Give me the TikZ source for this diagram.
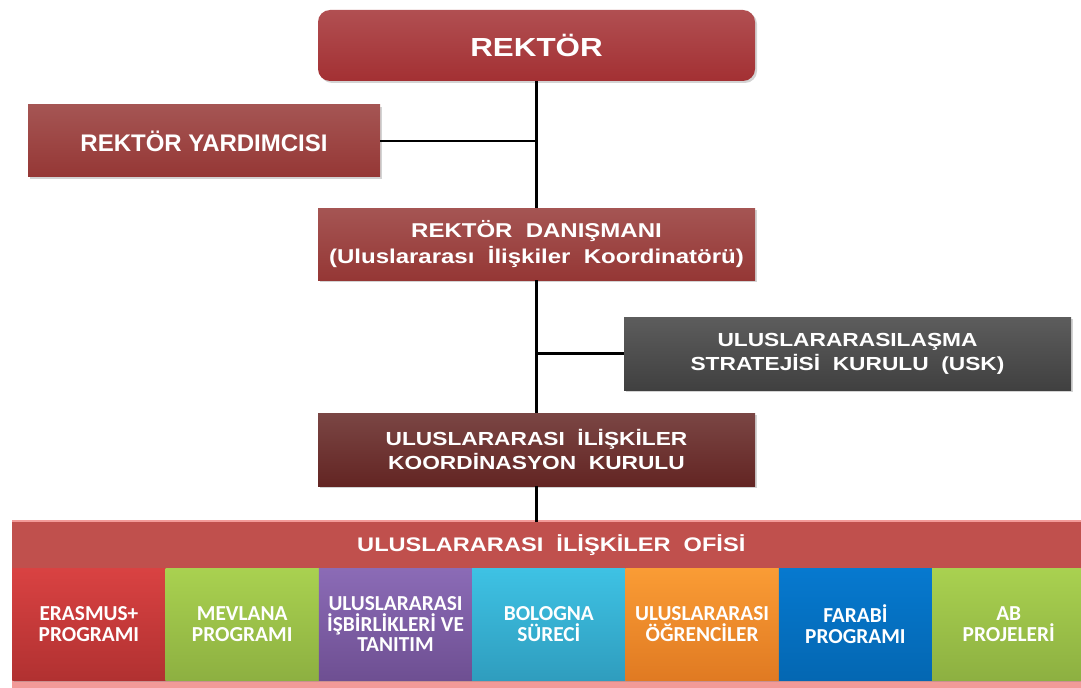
\documentclass[tikz,border=0pt]{standalone}
\usepackage{fontspec}
\setmainfont{Liberation Sans}
\newfontfamily\calibri{Carlito}
\newfontfamily\widesans[FakeStretch=1.2]{Liberation Sans}
\usetikzlibrary{shadows}

\definecolor{rektorred}{HTML}{A33033}
\definecolor{unitred}{HTML}{953735}
\definecolor{darkred}{HTML}{632523}
\definecolor{uskgray}{HTML}{404040}
\definecolor{officered}{HTML}{C0504D}
\definecolor{officepink}{HTML}{F29A98}

\begin{document}
\begin{tikzpicture}[x=0.75pt,y=-0.75pt,
  box/.style 2 args={minimum width=#1*0.75pt, minimum height=#2*0.75pt, inner sep=0pt,
    align=center, text=white,
    drop shadow={opacity=0.35, shadow xshift=1.5pt, shadow yshift=-1.5pt}},
  head/.style={font=\widesans\fontsize{#1}{18}\selectfont\bfseries},
  head/.default=14.2,
  prog/.style={box={153.3}{112}, anchor=north west,
    font=\calibri\fontsize{16}{15.5}\selectfont\bfseries},
  link/.style={line width=2.2pt}]
\useasboundingbox (0,0) rectangle (1081,688);
\clip (0,0) rectangle (1081,688);

% top of the hierarchy
\node[box={437}{71}, rounded corners=9pt, top color=rektorred!85!white, bottom color=rektorred,
  font=\widesans\fontsize{19.6}{22}\selectfont\bfseries] (rektor) at (536.5,45.5) {REKTÖR};
\node[box={352}{72}, top color=unitred!85!white, bottom color=unitred,
  font=\fontsize{18}{20}\selectfont\bfseries] (yard) at (204,141)
  {REKTÖR YARDIMCISI};
\node[box={437}{72}, top color=unitred!85!white, bottom color=unitred,
  font=\widesans\fontsize{15}{19.5}\selectfont\bfseries] (danis) at (536.5,244)
  {REKTÖR\ \ DANIŞMANI\\(Uluslararası\ \ İlişkiler\ \ Koordinatörü)};
\node[box={447}{73}, top color=uskgray!85!white, bottom color=uskgray, head] (usk) at (847.5,353.5)
  {ULUSLARARASILAŞMA\\STRATEJİSİ\ \ KURULU\ \ (USK)};
\node[box={437}{73}, top color=darkred!85!white, bottom color=darkred, head] (koord) at (536.5,449.5)
  {ULUSLARARASI\ \ İLİŞKİLER\\KOORDİNASYON\ \ KURULU};

% office
\fill[officepink] (12,520) rectangle (1090,700);
\fill[officered] (12,525) rectangle (1090,680);
\node[box={1078}{46}, anchor=north west, fill=officered, drop shadow={opacity=0},
  font=\widesans\fontsize{14.75}{16}\selectfont\bfseries] (ofis) at (12,522)
  {ULUSLARARASI\ \ İLİŞKİLER\ \ OFİSİ};

\foreach \i/\topc/\botc/\txt in {
  0/D94242/B13131/{ERASMUS+\\PROGRAMI},
  1/A9D150/8DB041/{MEVLANA\\PROGRAMI},
  2/8B6BB6/6E4F92/{ULUSLARARASI\\İŞBİRLİKLERİ VE\\TANITIM},
  3/3EC2E4/2F9DBE/{BOLOGNA\\SÜRECİ},
  4/FA9C35/E07A22/{ULUSLARARASI\\ÖĞRENCİLER},
  5/0679CF/0467B2/{FARABİ\\PROGRAMI},
  6/A9D150/8DB041/{AB\\PROJELERİ}}
{
  \definecolor{ctop}{HTML}{\topc}
  \definecolor{cbot}{HTML}{\botc}
  \node[prog, top color=ctop, bottom color=cbot] (prog\i) at (12+153.3*\i,568) {\txt};
}

% connectors
\draw[link] (rektor.south) -- (danis.north);
\draw[link] (yard.east) -- (yard.east -| rektor.south);
\draw[link] (danis.south) -- (koord.north);
\draw[link] (usk.west) -- (usk.west -| danis.south);
\draw[link] (koord.south) -- (koord.south |- ofis.north);
\end{tikzpicture}
\end{document}
